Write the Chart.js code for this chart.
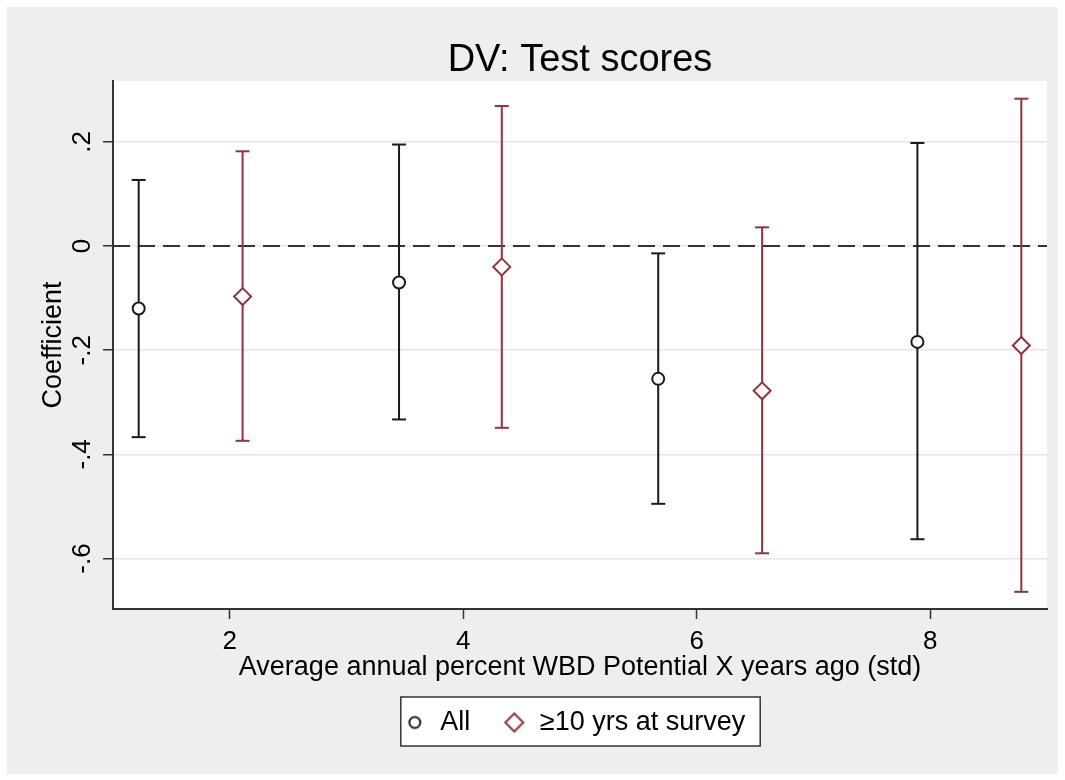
<!DOCTYPE html>
<html>
<head>
<meta charset="utf-8">
<script src="https://cdn.jsdelivr.net/npm/chart.js@4/dist/chart.umd.min.js"></script>
<style>
  body { margin: 0; background: #fff; }
  #wrap { width: 1065px; height: 780px; position: relative; }
</style>
</head>
<body>
<div id="wrap"><canvas id="chart"></canvas></div>
<script>
// DATA
const xAll = [1.22, 3.45, 5.67, 7.89];
const coefAll = [-0.12, -0.07, -0.255, -0.184];
const loAll = [-0.367, -0.333, -0.495, -0.563];
const hiAll = [0.127, 0.195, -0.014, 0.198];

const xSub = [2.11, 4.33, 6.56, 8.78];
const coefSub = [-0.097, -0.04, -0.278, -0.191];
const loSub = [-0.374, -0.349, -0.59, -0.664];
const hiSub = [0.182, 0.269, 0.036, 0.283];

const seriesNames = ["All", "\u226510 yrs at survey"];
const xTicks = [2, 4, 6, 8];
const yTicks = [-0.6, -0.4, -0.2, 0, 0.2];

const BLACK = "#1a1a1a";
const RED = "#90353b";
const FONT = "'Liberation Sans', Arial, sans-serif";

// error bars: lo -> hi, then a gap
function barData(xs, lo, hi) {
  const out = [];
  xs.forEach((x, i) => {
    out.push({ x: x, y: lo[i] });
    out.push({ x: x, y: hi[i] });
    out.push({ x: x, y: null });
  });
  return out;
}

function stataLabel(v) {
  if (Math.abs(v) < 1e-9) return "0";
  return v.toFixed(1).replace("0.", ".");
}

// small legend symbols (the legend uses one size for all otherwise)
function legendSymbol(kind, color) {
  const c = document.createElement("canvas");
  const s = kind === "circle" ? 16 : 24;
  c.width = s;
  c.height = s;
  const g = c.getContext("2d");
  g.strokeStyle = color;
  g.lineWidth = 2;
  g.fillStyle = "#fff";
  g.beginPath();
  if (kind === "circle") {
    g.arc(s / 2, s / 2, 5.5, 0, Math.PI * 2);
  } else {
    const r = 9;
    g.moveTo(s / 2 - r, s / 2);
    g.lineTo(s / 2, s / 2 - r);
    g.lineTo(s / 2 + r, s / 2);
    g.lineTo(s / 2, s / 2 + r);
    g.closePath();
  }
  g.fill();
  g.stroke();
  return c;
}
const legendSymbols = [legendSymbol("circle", BLACK), legendSymbol("diamond", RED)];

// background, plot region and legend frame
const bgPlugin = {
  id: "bg",
  afterUpdate(chart) {
    // nudge legend a bit left, like the original
    const lg = chart.legend;
    lg.left -= 6;
    lg.right -= 6;
    lg.legendHitBoxes.forEach((h) => { h.left -= 6; });
  },
  beforeDraw(chart) {
    const { ctx, chartArea: a, width, height } = chart;
    ctx.save();
    ctx.fillStyle = "#fff";
    ctx.fillRect(0, 0, width, height);
    ctx.fillStyle = "#eeeeee";
    ctx.fillRect(7, 7, width - 14, height - 13);
    ctx.fillStyle = "#fff";
    ctx.fillRect(a.left, a.top, a.right - a.left, a.bottom - a.top);

    const hb = chart.legend.legendHitBoxes;
    if (hb && hb.length) {
      const first = hb[0];
      const last = hb[hb.length - 1];
      const l = first.left - 2;
      const r = last.left + last.width + 15;
      const t = first.top - 12;
      const b = first.top + first.height + 10;
      ctx.fillStyle = "#fff";
      ctx.fillRect(l, t, r - l, b - t);
      ctx.strokeStyle = "#333";
      ctx.lineWidth = 1.5;
      ctx.strokeRect(l, t, r - l, b - t);
    }
    ctx.restore();
  },
};

const ctx = document.getElementById("chart").getContext("2d");
new Chart(ctx, {
  type: "scatter",
  data: {
    datasets: [
      {
        label: seriesNames[0],
        data: xAll.map((x, i) => ({ x: x, y: coefAll[i] })),
        pointStyle: "circle",
        pointRadius: 6,
        pointBorderWidth: 2,
        pointBorderColor: BLACK,
        pointBackgroundColor: "#fff",
        borderColor: BLACK,
        backgroundColor: "#fff",
        order: 0,
      },
      {
        label: seriesNames[1],
        data: xSub.map((x, i) => ({ x: x, y: coefSub[i] })),
        pointStyle: "rectRot",
        pointRadius: 8.5,
        pointBorderWidth: 2,
        pointBorderColor: RED,
        pointBackgroundColor: "#fff",
        borderColor: RED,
        backgroundColor: "#fff",
        order: 0,
      },
      {
        label: "ciAll",
        data: barData(xAll, loAll, hiAll),
        showLine: true,
        spanGaps: false,
        borderColor: BLACK,
        borderWidth: 2,
        pointStyle: "line",
        pointRadius: 7,
        pointBorderWidth: 2,
        pointBorderColor: BLACK,
        order: 1,
      },
      {
        label: "ciSub",
        data: barData(xSub, loSub, hiSub),
        showLine: true,
        spanGaps: false,
        borderColor: RED,
        borderWidth: 2,
        pointStyle: "line",
        pointRadius: 7,
        pointBorderWidth: 2,
        pointBorderColor: RED,
        order: 1,
      },
      {
        label: "zero",
        data: [{ x: 1, y: 0 }, { x: 9, y: 0 }],
        showLine: true,
        borderColor: "#333",
        borderWidth: 2,
        borderDash: [17, 8],
        pointRadius: 0,
        order: 2,
      },
    ],
  },
  options: {
    responsive: true,
    maintainAspectRatio: false,
    animation: false,
    events: [],
    layout: { padding: { left: 0, right: 18, top: 0, bottom: 34 } },
    scales: {
      x: {
        type: "linear",
        min: 1,
        max: 9,
        afterBuildTicks: (s) => { s.ticks = xTicks.map((v) => ({ value: v })); },
        afterFit: (s) => { s.height = 68; },
        border: { display: true, color: "#333", width: 2 },
        grid: { drawOnChartArea: false, drawTicks: true, tickLength: 10, tickColor: "#333", tickWidth: 1.5 },
        ticks: { color: "#000", font: { family: FONT, size: 26 }, padding: 7, maxRotation: 0, autoSkip: false },
        title: {
          display: true,
          text: "Average annual percent WBD Potential X years ago (std)",
          color: "#000",
          font: { family: FONT, size: 27, lineHeight: 0.7 },
          padding: { top: 0, bottom: 0 },
        },
      },
      y: {
        type: "linear",
        min: -0.697,
        max: 0.317,
        afterBuildTicks: (s) => { s.ticks = yTicks.map((v) => ({ value: v })); },
        afterFit: (s) => { s.width = 113; },
        border: { display: true, color: "#333", width: 2 },
        grid: { color: "#e6e6e6", lineWidth: 1.5, drawTicks: true, tickLength: 10, tickColor: "#333", tickWidth: 1.5 },
        ticks: {
          color: "#000",
          font: { family: FONT, size: 26 },
          padding: 5,
          minRotation: 90,
          maxRotation: 90,
          crossAlign: "center",
          callback: (v) => stataLabel(v),
        },
        title: {
          display: true,
          text: "Coefficient",
          color: "#000",
          font: { family: FONT, size: 27 },
          padding: { top: 37, bottom: 0 },
        },
      },
    },
    plugins: {
      title: {
        display: true,
        text: "DV: Test scores",
        color: "#000",
        fullSize: false,
        font: { family: FONT, size: 38, weight: "normal", lineHeight: 1 },
        padding: { top: 41.5, bottom: 1.5 },
      },
      legend: {
        position: "bottom",
        fullSize: false,
        labels: {
          usePointStyle: true,
          boxWidth: 24,
          boxHeight: 9,
          padding: 32,
          color: "#000",
          font: { family: FONT, size: 27 },
          filter: (item) => item.datasetIndex < 2,
          generateLabels: (chart) => {
            const items = Chart.defaults.plugins.legend.labels.generateLabels(chart);
            items.forEach((it) => {
              if (it.datasetIndex < 2) it.pointStyle = legendSymbols[it.datasetIndex];
            });
            return items;
          },
        },
      },
      tooltip: { enabled: false },
    },
  },
  plugins: [bgPlugin],
});
</script>
</body>
</html>
